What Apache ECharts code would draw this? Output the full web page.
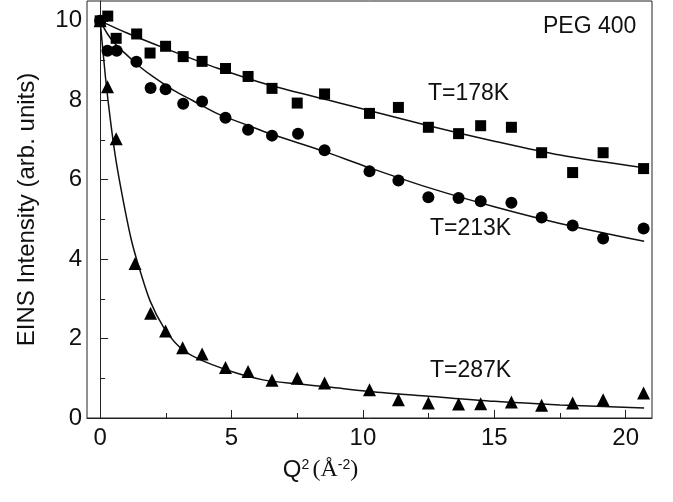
<!DOCTYPE html>
<html>
<head>
<meta charset="utf-8">
<script src="https://cdn.jsdelivr.net/npm/echarts@6/dist/echarts.min.js"></script>
<style>
html, body { margin: 0; padding: 0; background: #fff; }
#chart { width: 673px; height: 502px; }
</style>
</head>
<body>
<div id="chart"></div>
<script>
// measured points, [Q^2, intensity]
const t178Points = [
    [0, 10.0], [0.29, 10.12], [0.61, 9.56], [1.39, 9.67], [1.9, 9.19], [2.49, 9.36],
    [3.16, 9.1], [3.88, 8.98], [4.77, 8.8], [5.63, 8.6], [6.54, 8.3], [7.5, 7.93],
    [8.54, 8.16], [10.25, 7.67], [11.35, 7.82], [12.49, 7.32], [13.64, 7.16],
    [14.48, 7.36], [15.65, 7.32], [16.8, 6.68], [17.98, 6.18], [19.14, 6.68], [20.68, 6.28]
]
const t213Points = [
    [0, 10.0], [0.28, 9.25], [0.63, 9.25], [1.38, 8.97], [1.92, 8.31], [2.49, 8.28],
    [3.16, 7.91], [3.88, 7.97], [4.77, 7.56], [5.63, 7.26], [6.54, 7.11], [7.53, 7.16],
    [8.54, 6.74], [10.25, 6.21], [11.35, 5.98], [12.49, 5.56], [13.64, 5.54],
    [14.48, 5.46], [15.65, 5.42], [16.8, 5.05], [17.98, 4.85], [19.14, 4.52], [20.68, 4.77]
]
const t287Points = [
    [0, 10.0], [0.28, 8.34], [0.61, 7.03], [1.33, 3.89], [1.92, 2.64], [2.49, 2.19],
    [3.14, 1.77], [3.88, 1.61], [4.77, 1.27], [5.63, 1.17], [6.54, 0.95], [7.5, 1.0],
    [8.54, 0.88], [10.25, 0.71], [11.35, 0.46], [12.49, 0.38], [13.64, 0.35],
    [14.48, 0.36], [15.65, 0.4], [16.8, 0.32], [17.98, 0.38], [19.14, 0.46], [20.68, 0.63]
]

// fit curves
const t178Fit = [
    [0, 10.0], [1, 9.7], [2.5, 9.3], [4.5, 8.8], [6.5, 8.37], [9, 7.95],
    [12.5, 7.36], [15, 6.97], [17.5, 6.62], [20.7, 6.3]
]
const t213Fit = [
    [0, 10.0], [0.3, 9.65], [0.6, 9.4], [1, 9.15], [1.5, 8.85], [2, 8.6], [2.8, 8.25],
    [3.5, 8.0], [4.5, 7.65], [5.5, 7.4], [6.5, 7.15], [8.5, 6.72], [10, 6.36],
    [12.5, 5.8], [15, 5.32], [17.5, 4.9], [20.7, 4.45]
]
const t287Fit = [
    [0, 10.0], [0.2, 8.6], [0.4, 7.45], [0.6, 6.5], [0.9, 5.4], [1.2, 4.45], [1.5, 3.75],
    [1.9, 2.95], [2.4, 2.3], [3, 1.8], [3.7, 1.5], [5, 1.17], [6.2, 0.96], [7.5, 0.86],
    [8.7, 0.78], [10.25, 0.67], [12.5, 0.55], [15, 0.42], [17.5, 0.33], [20.7, 0.25]
]

const xMajor = [0, 5, 10, 15, 20]
const xMinor = [2.5, 7.5, 12.5, 17.5]
const yMajor = [0, 2, 4, 6, 8, 10]
const yMinor = [1, 3, 5, 7, 9]

const FONT = 'Liberation Sans, Arial, sans-serif'
const INK = '#111'
const AXIS = '#222'

const myChart = echarts.init(document.getElementById('chart'))

function majorAxis(values, extra) {
    return Object.assign({
        type: 'value',
        axisLine: { show: true, lineStyle: { color: AXIS, width: 1 } },
        splitLine: { show: false },
        axisTick: { show: true, inside: true, length: 8, customValues: values, lineStyle: { color: AXIS } },
        axisLabel: { customValues: values, fontSize: 24, color: INK, fontFamily: FONT }
    }, extra)
}

function minorAxis(values, extra) {
    return Object.assign({
        type: 'value',
        axisLine: { show: false },
        splitLine: { show: false },
        axisTick: { show: true, inside: true, length: 5, customValues: values, lineStyle: { color: AXIS } },
        axisLabel: { show: false }
    }, extra)
}

function points(name, data, symbol, size) {
    return {
        name: name,
        type: 'scatter',
        data: data,
        symbol: symbol,
        symbolSize: size,
        itemStyle: { color: '#000', opacity: 1 },
        z: 3
    }
}

function fit(data) {
    return {
        type: 'line',
        data: data,
        smooth: 0.3,
        showSymbol: false,
        lineStyle: { color: '#111', width: 1.5 },
        z: 2
    }
}

function label(text, left, top) {
    return {
        type: 'text',
        left: left,
        top: top,
        style: { text: text, fontSize: 23, fontFamily: FONT, fill: INK }
    }
}

const options = {
    backgroundColor: '#fff',
    animation: false,
    grid: { left: 87, right: 21, top: 1, bottom: 84, show: true, borderColor: AXIS, borderWidth: 1 },
    xAxis: [
        majorAxis(xMajor, {
            min: -0.5, max: 21, position: 'bottom',
            axisLabel: { customValues: xMajor, fontSize: 24, color: INK, fontFamily: FONT, margin: 8 },
            name: '{q|Q}{sup|2} {p|(Å}{sup|-2}{p|)}',
            nameLocation: 'middle',
            nameGap: 40,
            nameTextStyle: {
                color: INK,
                padding: [0, 98, 0, 0],
                rich: {
                    q: { fontSize: 24, fontFamily: FONT, color: INK },
                    p: { fontSize: 24, fontFamily: 'Liberation Serif, Times New Roman, serif', color: INK },
                    sup: { fontSize: 14, fontFamily: FONT, color: INK, verticalAlign: 'top', padding: [0, 0, 10, 0] }
                }
            }
        }),
        minorAxis(xMinor, { min: -0.5, max: 21, position: 'bottom' })
    ],
    yAxis: [
        majorAxis(yMajor, {
            min: 0, max: 10.5, position: 'left',
            axisLabel: { customValues: yMajor, fontSize: 24, color: INK, fontFamily: FONT, margin: 5 },
            name: 'EINS Intensity (arb. units)',
            nameLocation: 'middle',
            nameGap: 48,
            nameTextStyle: { fontSize: 24, color: INK, fontFamily: FONT }
        }),
        minorAxis(yMinor, { min: 0, max: 10.5, position: 'left' })
    ],
    graphic: [
        label('PEG 400', 543, 15),
        label('T=178K', 428, 82),
        label('T=213K', 430, 217),
        label('T=287K', 430, 359)
    ],
    series: [
        fit(t178Fit),
        fit(t213Fit),
        fit(t287Fit),
        points('T=178K', t178Points, 'rect', 11),
        points('T=213K', t213Points, 'circle', 12),
        points('T=287K', t287Points, 'triangle', 13)
    ]
}

myChart.setOption(options)
</script>
</body>
</html>
